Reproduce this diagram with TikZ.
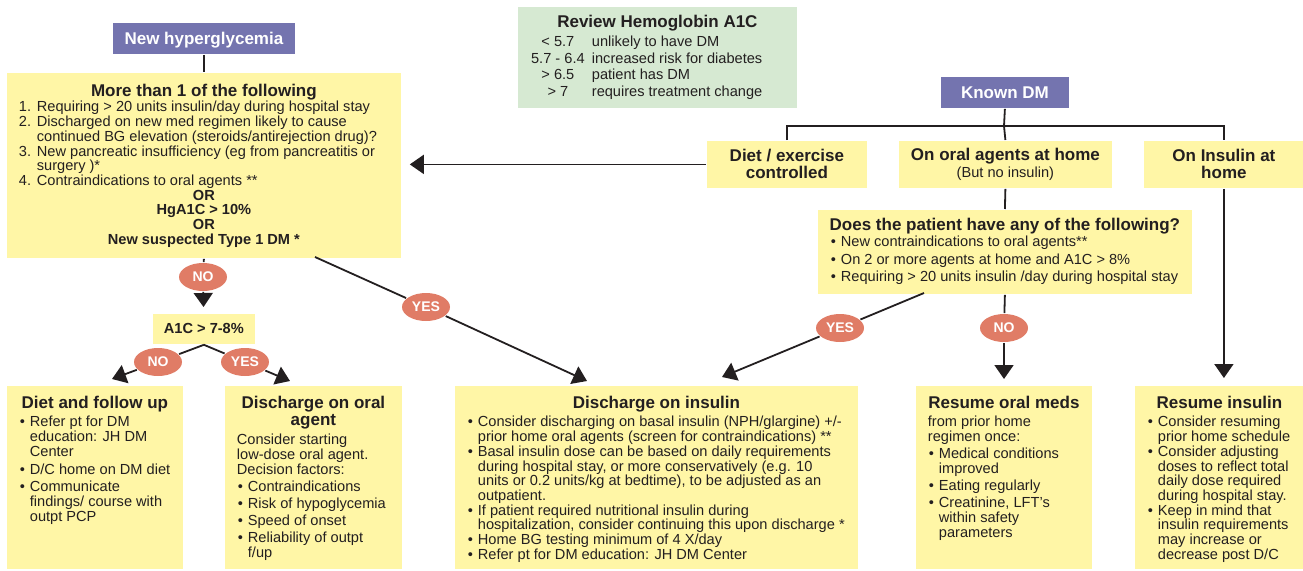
\documentclass[tikz,border=0pt]{standalone}
\usepackage{fontspec}
\setmainfont{Liberation Sans}
\usetikzlibrary{arrows.meta,shapes.geometric}
\definecolor{ink}{HTML}{231F20}
\definecolor{boxyellow}{HTML}{FFF6A6}
\definecolor{dmviolet}{HTML}{7474AF}
\definecolor{revgreen}{HTML}{D6E9D2}
\definecolor{choicered}{HTML}{E07C66}
\newlength\itemgap
\newcommand\bodyfont{\fontsize{14.6}{14.7}\selectfont}
\newcommand\headfont{\fontsize{17}{17}\selectfont\bfseries}
\newcommand\choicefont{\fontsize{14}{14}\selectfont\bfseries}
\newcommand\boxtext[3]{\parbox[c][#2pt][t]{#1pt}{\bodyfont\parindent=0pt\parskip=0pt\leftskip=12pt\rightskip=0pt plus 1fil\parfillskip=0pt plus 1fil\relax #3}}
\newcommand\head[3]{{\headfont\centering\rule{0pt}{#1pt}#3\par}\vskip#2pt\relax}
\newcommand\bul[1]{\par\hangindent=11pt\hangafter=1\noindent\makebox[11pt][l]{\hspace{1pt}\textbullet}#1\par\vskip\itemgap}
\newcommand\enum[2]{\par\hangindent=18pt\hangafter=1\noindent\makebox[18pt][l]{#1}#2\par}
\newcommand\ctr[1]{{\bfseries\centering #1\par}}
\newcommand\arow[2]{\par\noindent\hspace*{6pt}\makebox[68pt][c]{#1}#2\par}
\begin{document}
\begin{tikzpicture}[x=1pt, y=-1pt, line width=1.8pt, color=ink,
    ybox/.style={fill=boxyellow, anchor=north west, inner sep=0pt},
    headbox/.style={fill=boxyellow, anchor=north west, inner sep=0pt, align=center, font=\headfont},
    pbox/.style={fill=dmviolet, text=white, anchor=north west, inner sep=0pt, font=\headfont, text height=12pt, text depth=0pt},
    gbox/.style={fill=revgreen, anchor=north west, inner sep=0pt},
    choice/.style={ellipse, fill=choicered, text=white, inner sep=0pt, minimum width=48pt, minimum height=28pt, font=\choicefont},
    arr/.style={-{Triangle[width=19pt,length=14pt]}}]
  \useasboundingbox (0,0) rectangle (1303,570);
  \node (hyp) at (112,22) [pbox, minimum width=182pt, minimum height=31pt] {New hyperglycemia};
  \node (more) at (6,72) [ybox] {\boxtext{394}{185}{%
    \head{24}{0.3}{More than 1 of the following}%
    \enum{1.}{Requiring > 20 units insulin/day during hospital stay}%
    \enum{2.}{Discharged on new med regimen likely to cause\\continued BG elevation (steroids/antirejection drug)?}%
    \enum{3.}{New pancreatic insufficiency (eg from pancreatitis or\\surgery )*}%
    \enum{4.}{Contraindications to oral agents **}%
    \ctr{OR}\ctr{HgA1C > 10\%}\ctr{OR}\ctr{New suspected Type 1 DM *}}};
  \node (review) at (517,6) [gbox] {\parbox[c][101pt][t]{279pt}{\fontsize{14.6}{16.4}\selectfont\parindent=0pt\parskip=0pt
    \head{21}{2.6}{Review Hemoglobin A1C}%
    \arow{< 5.7}{unlikely to have DM}%
    \arow{5.7 - 6.4}{increased risk for diabetes}%
    \arow{> 6.5}{patient has DM}%
    \arow{> 7}{requires treatment change}}};
  \node (known) at (940,76) [pbox, minimum width=128pt, minimum height=31pt] {Known DM};
  \node (dietex) at (706,140) [headbox, minimum width=160pt, minimum height=47pt] {Diet / exercise\\controlled};
  \node (onoral) at (898,140) [headbox, minimum width=213pt, minimum height=47pt] {On oral agents at home\\{\fontsize{14.6}{17}\selectfont\mdseries (But no insulin)}};
  \node (oninsulin) at (1143,140) [headbox, minimum width=160pt, minimum height=47pt] {On Insulin at\\home};
  \node (does) at (817,209) [ybox] {\boxtext{374}{84}{\setlength\itemgap{2.8pt}%
    \head{21}{1.3}{Does the patient have any of the following?}%
    \bul{New contraindications to oral agents**}%
    \bul{On 2 or more agents at home and A1C > 8\%}%
    \bul{Requiring > 20 units insulin /day during hospital stay}}};
  \node (a1c) at (152,313) [headbox, minimum width=102pt, minimum height=30pt, font=\bodyfont\bfseries] {A1C > 7-8\%};
  \node (diet) at (6,385) [ybox] {\boxtext{176}{183}{\setlength\itemgap{3pt}%
    \head{23}{3.3}{Diet and follow up}%
    \bul{Refer pt for DM\\education: JH DM\\Center}%
    \bul{D/C home on DM diet}%
    \bul{Communicate\\findings/ course with\\outpt PCP}}};
  \node (oral) at (224,385) [ybox] {\boxtext{177}{183}{\setlength\itemgap{2.5pt}%
    \head{23}{4.3}{Discharge on oral\\agent}%
    \par\noindent Consider starting\\low-dose oral agent.\\Decision factors:\par\vskip2.3pt
    \bul{Contraindications}%
    \bul{Risk of hypoglycemia}%
    \bul{Speed of onset}%
    \bul{Reliability of outpt\\f/up}}};
  \node (dins) at (454,385) [ybox] {\boxtext{403}{183}{\setlength\itemgap{0pt}%
    \head{23}{3.3}{Discharge on insulin}%
    \bul{Consider discharging on basal insulin (NPH/glargine) +/-\\prior home oral agents (screen for contraindications) **}%
    \bul{Basal insulin dose can be based on daily requirements\\during hospital stay, or more conservatively (e.g. 10\\units or 0.2 units/kg at bedtime), to be adjusted as an\\outpatient.}%
    \bul{If patient required nutritional insulin during\\hospitalization, consider continuing this upon discharge *}%
    \bul{Home BG testing minimum of 4 X/day}%
    \bul{Refer pt for DM education: JH DM Center}}};
  \node (roral) at (915,385) [ybox] {\boxtext{176}{183}{\setlength\itemgap{2.4pt}%
    \head{23}{3.3}{Resume oral meds}%
    \par\noindent from prior home\\regimen once:\par\vskip2.4pt
    \bul{Medical conditions\\improved}%
    \bul{Eating regularly}%
    \bul{Creatinine, LFT's\\within safety\\parameters}}};
  \node (rins) at (1134,385) [ybox] {\boxtext{169}{183}{\setlength\itemgap{0pt}%
    \head{23}{3.3}{Resume insulin}%
    \bul{Consider resuming\\prior home schedule}%
    \bul{Consider adjusting\\doses to reflect total\\daily dose required\\during hospital stay.}%
    \bul{Keep in mind that\\insulin requirements\\may increase or\\decrease post D/C}}};
  \node (no1) at (203,277) [choice] {NO};
  \node (yes1) at (426,307) [choice] {YES};
  \node (no2) at (158,362) [choice] {NO};
  \node (yes2) at (245,362) [choice] {YES};
  \node (yes3) at (840,328) [choice] {YES};
  \node (no3) at (1004,328) [choice] {NO};
  \coordinate (bus) at (1004,126);
  \coordinate (m1) at (315,257);
  \coordinate (d1) at (924,293);
  \coordinate (tipA) at (587,381);
  \coordinate (tipB) at (722,377);
  \coordinate (tipC) at (112,379);
  \coordinate (tipD) at (290,381);
  \foreach \source/\dest in {hyp.south/more.north, more.south/no1, known.south/bus, bus/onoral.north, onoral.south/does.north, does.south/no3, m1/yes1, d1/yes3, a1c.south/no2, a1c.south/yes2}
    \path (\source) edge (\dest);
  \draw (dietex.north) |- (bus) -| (oninsulin.north);
  \foreach \source/\dest in {yes1/tipA, yes3/tipB, no2/tipC, yes2/tipD}
    \path[arr] (\source) edge (\dest);
  \path[arr, shorten >=6pt] (no1) edge (a1c);
  \path[arr, shorten >=6pt] (no3) edge (no3 |- roral.north);
  \path[arr, shorten >=7pt] (oninsulin.south) edge (oninsulin.south |- rins.north);
  \path[arr, shorten >=8pt] (dietex) edge (dietex -| more.east);
\end{tikzpicture}
\end{document}
